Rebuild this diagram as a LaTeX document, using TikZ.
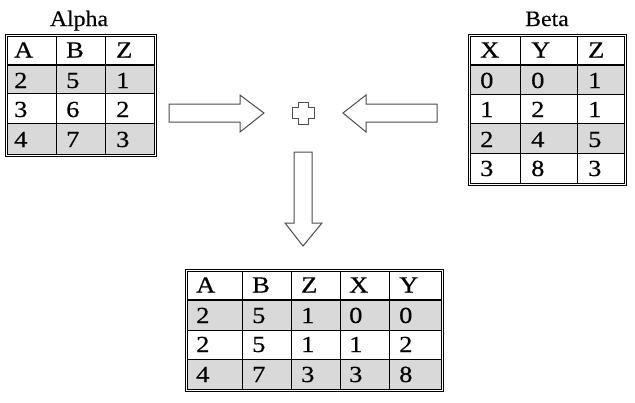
\documentclass[tikz,border=0pt]{standalone}
\usepackage{fontspec}
\setmainfont{Liberation Serif}
\newfontfamily\cellfont[FakeStretch=1.15,FakeBold=0.5]{Liberation Serif}
\newfontfamily\titlefont[FakeStretch=1.08,FakeBold=0.3]{Liberation Serif}
\begin{document}
\begin{tikzpicture}[x=1pt,y=-1pt,
  cell/.style={font=\cellfont\fontsize{23}{24}\selectfont, anchor=base west, inner sep=0pt},
  ttl/.style={font=\titlefont\fontsize{22}{23}\selectfont, anchor=base, inner sep=0pt},
  shade/.style={fill=black!15},
  tline/.style={draw=black, line width=1pt},
  hline/.style={draw=black, line width=1.8pt},
  bigarrow/.style={draw=black!70, line width=1pt, fill=white, line join=miter}]
\useasboundingbox (0,0) rectangle (635,402);

% ---------- Alpha ----------
\node[ttl] (alphatitle) at (79,26) {Alpha};
\fill[shade] (7,65) rectangle (154,93.5);
\fill[shade] (7,123) rectangle (154,154);
\draw[tline] (5,34) rectangle (156,156);
\draw[tline] (7,36) rectangle (154,154);
\draw[tline] (56,36) -- (56,154) (105,36) -- (105,154);
\draw[hline] (7,65) -- (154,65);
\draw[tline] (7,93.5) -- (154,93.5) (7,123) -- (154,123);
\node[cell] (aA) at (14,57.5) {A};
\node[cell] (aB) at (66,57.5) {B};
\node[cell] (aZ) at (116,57.5) {Z};
\node[cell] (a21) at (14,88) {2};
\node[cell] (a22) at (66,88) {5};
\node[cell] (a23) at (116,88) {1};
\node[cell] (a31) at (14,117) {3};
\node[cell] (a32) at (66,117) {6};
\node[cell] (a33) at (116,117) {2};
\node[cell] (a41) at (14,147) {4};
\node[cell] (a42) at (66,147) {7};
\node[cell] (a43) at (116,147) {3};

% ---------- Beta ----------
\node[ttl] (betatitle) at (547,26) {Beta};
\fill[shade] (470,65) rectangle (624,94);
\fill[shade] (470,123) rectangle (624,153);
\draw[tline] (468,34) rectangle (626,185);
\draw[tline] (470,36) rectangle (624,183);
\draw[tline] (520,36) -- (520,183) (577,36) -- (577,183);
\draw[hline] (470,65) -- (624,65);
\draw[tline] (470,94) -- (624,94) (470,123) -- (624,123) (470,153) -- (624,153);
\node[cell] (bX) at (480,57.5) {X};
\node[cell] (bY) at (531,57.5) {Y};
\node[cell] (bZ) at (588,57.5) {Z};
\node[cell] (b21) at (480,88) {0};
\node[cell] (b22) at (531,88) {0};
\node[cell] (b23) at (588,88) {1};
\node[cell] (b31) at (480,117) {1};
\node[cell] (b32) at (531,117) {2};
\node[cell] (b33) at (588,117) {1};
\node[cell] (b41) at (480,147) {2};
\node[cell] (b42) at (531,147) {4};
\node[cell] (b43) at (588,147) {5};
\node[cell] (b51) at (480,176) {3};
\node[cell] (b52) at (531,176) {8};
\node[cell] (b53) at (588,176) {3};

% ---------- Result ----------
\fill[shade] (187,300) rectangle (441,330);
\fill[shade] (187,359) rectangle (441,389);
\draw[tline] (185,269) rectangle (443,391);
\draw[tline] (187,271) rectangle (441,389);
\draw[tline] (242,271) -- (242,389) (291,271) -- (291,389) (340,271) -- (340,389) (389,271) -- (389,389);
\draw[hline] (187,300) -- (441,300);
\draw[tline] (187,330) -- (441,330) (187,359) -- (441,359);
\node[cell] (rA) at (196,292.5) {A};
\node[cell] (rB) at (252,292.5) {B};
\node[cell] (rZ) at (301,292.5) {Z};
\node[cell] (rX) at (349,292.5) {X};
\node[cell] (rY) at (399,292.5) {Y};
\node[cell] (r21) at (196,323) {2};
\node[cell] (r22) at (252,323) {5};
\node[cell] (r23) at (301,323) {1};
\node[cell] (r24) at (349,323) {0};
\node[cell] (r25) at (399,323) {0};
\node[cell] (r31) at (196,352) {2};
\node[cell] (r32) at (252,352) {5};
\node[cell] (r33) at (301,352) {1};
\node[cell] (r34) at (349,352) {1};
\node[cell] (r35) at (399,352) {2};
\node[cell] (r41) at (196,382) {4};
\node[cell] (r42) at (252,382) {7};
\node[cell] (r43) at (301,382) {3};
\node[cell] (r44) at (349,382) {3};
\node[cell] (r45) at (399,382) {8};

% ---------- Arrows and plus ----------
\draw[bigarrow] (169,104) -- (240,104) -- (240,95) -- (264,113) -- (240,132) -- (240,122) -- (169,122) -- cycle;
\draw[bigarrow] (437,104) -- (366,104) -- (366,95) -- (343,113) -- (366,132) -- (366,122) -- (437,122) -- cycle;
\draw[bigarrow] (294,152) -- (312,152) -- (312,223) -- (322,223) -- (303,246) -- (285,223) -- (294,223) -- cycle;
\draw[bigarrow] (298,102) -- (308,102) -- (308,107) -- (314,107) -- (314,118) -- (308,118) -- (308,124) -- (298,124) -- (298,118) -- (292,118) -- (292,107) -- (298,107) -- cycle;
\end{tikzpicture}
\end{document}
